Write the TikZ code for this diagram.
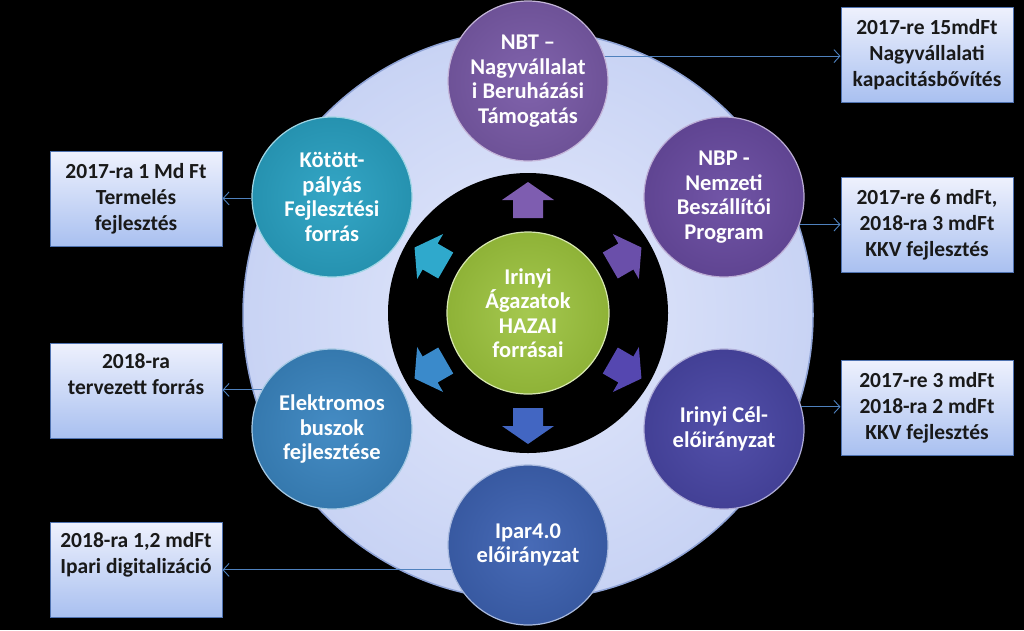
\documentclass[tikz,border=0pt]{standalone}
\usepackage{fontspec}
\setmainfont{Carlito}
\usetikzlibrary{arrows.meta}
\definecolor{cNBT}{HTML}{7A5BA8}
\definecolor{cNBP}{HTML}{6A4CA2}
\definecolor{cCel}{HTML}{4A47A6}
\definecolor{cIpar}{HTML}{3E63B3}
\definecolor{cElek}{HTML}{3B86C1}
\definecolor{cKot}{HTML}{2AA2C3}
\definecolor{cGreen}{HTML}{9BC23C}
\definecolor{bigin}{HTML}{E4E9FC}
\definecolor{bigout}{HTML}{C8D3F4}
\definecolor{bigrim}{HTML}{8FA3D6}
\definecolor{boxtop}{HTML}{EEF1FD}
\definecolor{boxbot}{HTML}{A9C0F0}
\definecolor{boxdraw}{HTML}{4F72B0}
\definecolor{lineblue}{HTML}{4F81BD}
\definecolor{arA}{HTML}{7E5DB0}
\definecolor{arB}{HTML}{6A4FAA}
\definecolor{arC}{HTML}{5547B0}
\definecolor{arD}{HTML}{4266C2}
\definecolor{arE}{HTML}{3A8ACB}
\definecolor{arF}{HTML}{2FA9CC}
\tikzset{
  ball/.style={circle, minimum size=160pt, inner sep=0pt, align=center, text=white,
    font=\bfseries\fontsize{22.5}{24.5}\selectfont, draw=#1!45!white, line width=1.2pt,
    inner color=#1!95!white, outer color=#1!90!black},
  infobox/.style={draw=boxdraw, line width=1pt, top color=boxtop, bottom color=boxbot,
    minimum width=172pt, minimum height=95pt, inner sep=2pt, align=center,
    font=\bfseries\fontsize{21.5}{26}\selectfont, text=black!90},
  conn/.style={draw=lineblue, line width=0.9pt, -{Straight Barb[length=6pt,width=13pt]}}
}
\begin{document}
\begin{tikzpicture}[x=1pt,y=-1pt]
\useasboundingbox (0,0) rectangle (1024,630);
\fill[black] (0,0) rectangle (1024,630);
% big light ring
\path[inner color=bigin, outer color=bigout, draw=bigrim, line width=1.5pt] (528,315) circle[radius=285pt];
% inner black disc
\fill[black] (528,313) circle[radius=140pt];
% arrows
\foreach \a/\c in {90/arA, 30/arB, -30/arC, -90/arD, -150/arE, 150/arF}{
  \fill[\c, shift={(528,313)}, rotate=\a] (95,-15) -- (113,-15) -- (113,-26) -- (131,0) -- (113,26) -- (113,15) -- (95,15) -- cycle;
}
% centre
\node[circle, minimum size=162pt, inner sep=0pt, align=center, text=white,
  font=\bfseries\fontsize{22.5}{24.5}\selectfont, draw=cGreen!40!white, line width=1.2pt,
  inner color=cGreen!90!white, outer color=cGreen!92!black] (ctr) at (528,313)
  {Irinyi\\Ágazatok\\HAZAI\\forrásai};
% outer circles
\node[ball=cNBT] (nbt) at (528,81) {NBT –\\Nagyvállalat\\i Beruházási\\Támogatás};
\node[ball=cNBP] (nbp) at (724,197) {NBP -\\Nemzeti\\Beszállítói\\Program};
\node[ball=cCel] (cel) at (724,429) {Irinyi Cél-\\előirányzat};
\node[ball=cIpar] (ipar) at (528,545) {Ipar4.0\\előirányzat};
\node[ball=cElek] (elek) at (332,429) {Elektromos\\buszok\\fejlesztése};
\node[ball=cKot] (kot) at (332,197) {Kötött-\\pályás\\Fejlesztési\\forrás};
% boxes
\node[infobox] (b1) at (927,54.5) {2017-re 15mdFt\\Nagyvállalati\\kapacitásbővítés};
\node[infobox] (b2) at (927,225) {2017-re 6 mdFt,\\2018-ra 3 mdFt\\KKV fejlesztés};
\node[infobox] (b3) at (927,407.5) {2017-re 3 mdFt\\2018-ra 2 mdFt\\KKV fejlesztés};
\node[infobox] (l1) at (136,199) {2017-ra 1 Md Ft\\Termelés\\fejlesztés};
\node[infobox] (l2) at (136,390.5) {2018-ra\\tervezett forrás\\\strut};
\node[infobox] (l3) at (136,569.5) {2018-ra 1,2 mdFt\\Ipari digitalizáció\\\strut};
% connectors
\draw[conn] (nbt.18) -- (nbt.18 -| b1.west);
\draw[conn] (nbp.-20) -- (nbp.-20 -| b2.west);
\draw[conn] (cel.16) -- (cel.16 -| b3.west);
\draw[conn] (kot.181) -- (kot.181 -| l1.east);
\draw[conn] (elek.151) -- (elek.151 -| l2.east);
\draw[conn] (ipar.198) -- (ipar.198 -| l3.east);
\end{tikzpicture}
\end{document}
